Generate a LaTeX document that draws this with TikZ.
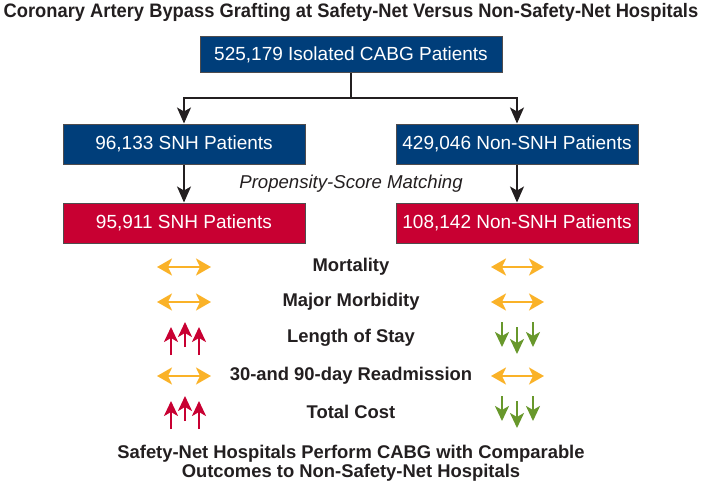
\documentclass[tikz,border=0pt]{standalone}
\usepackage{fontspec}
\setmainfont{Liberation Sans}
\usetikzlibrary{arrows.meta}
\definecolor{navy}{RGB}{0,62,122}
\definecolor{crim}{RGB}{200,0,50}
\definecolor{amber}{RGB}{250,178,40}
\definecolor{leaf}{RGB}{104,152,44}
\definecolor{ink}{RGB}{35,31,32}
\begin{document}
\begin{tikzpicture}[x=1pt,y=-1pt,
  box/.style={draw=ink!80,line width=1pt,text=white,inner sep=0pt,
    font=\fontsize{19}{22}\selectfont},
  bluebox/.style={box,fill=navy},
  redbox/.style={box,fill=crim},
  flow/.style={draw=ink,line width=1.3pt,-{Stealth[length=16pt,width=14pt,inset=4pt]}},
  rowlab/.style={font=\bfseries\fontsize{18.4}{21}\selectfont,text=ink},
  same/.style={draw=amber,line width=2.4pt,{Stealth[length=15pt,width=17pt,inset=4pt]}-{Stealth[length=15pt,width=17pt,inset=4pt]}},
  upar/.style={draw=crim,line width=2.4pt,-{Stealth[length=15pt,width=14pt,inset=4pt]}},
  dnar/.style={draw=leaf,line width=2.4pt,-{Stealth[length=15pt,width=14pt,inset=4pt]}}]
\useasboundingbox (0,0) rectangle (702,487);
\node[font=\bfseries\fontsize{19.5}{23}\selectfont,text=ink] (title) at (351,13)
  {\scalebox{0.94}[1]{Coronary Artery Bypass Grafting at Safety-Net Versus Non-Safety-Net Hospitals}};
\node[bluebox,minimum width=302pt,minimum height=36pt] (top) at (351,55) {525,179 Isolated CABG Patients};
\node[bluebox,minimum width=242pt,minimum height=40pt] (snh) at (184,144) {96,133 SNH Patients};
\node[bluebox,minimum width=242pt,minimum height=40pt] (nsnh) at (517,144) {429,046 Non-SNH Patients};
\node[redbox,minimum width=242pt,minimum height=40pt] (msnh) at (184,223) {95,911 SNH Patients};
\node[redbox,minimum width=242pt,minimum height=40pt] (mnsnh) at (517,223) {108,142 Non-SNH Patients};
\node[font=\itshape\fontsize{18.6}{21}\selectfont,text=ink] (psm) at (351,184) {Propensity-Score Matching};
\coordinate (j) at (351,98);
\draw[draw=ink,line width=1.3pt] (top.south) -- (j);
\draw[flow] (j) -| (snh.north);
\draw[flow] (j) -| (nsnh.north);
\draw[flow] (snh) -- (msnh);
\draw[flow] (nsnh) -- (mnsnh);
\node[rowlab] (r1) at (351,267) {Mortality};
\node[rowlab] (r2) at (351,302) {Major Morbidity};
\node[rowlab] (r3) at (351,338) {Length of Stay};
\node[rowlab] (r4) at (351,376) {30-and 90-day Readmission};
\node[rowlab] (r5) at (351,412) {Total Cost};
\foreach \y in {267,302,376}{
  \draw[same] (157,\y) -- (211,\y);
  \draw[same] (491,\y) -- (544,\y);
}
\foreach \y in {338,412}{
  \draw[upar] (171,\y+17) -- (171,\y-11);
  \draw[upar] (185,\y+9) -- (185,\y-16);
  \draw[upar] (199,\y+17) -- (199,\y-11);
  \draw[dnar] (502,\y-16) -- (502,\y+9);
  \draw[dnar] (517,\y-11) -- (517,\y+16);
  \draw[dnar] (533,\y-16) -- (533,\y+9);
}
\node[font=\bfseries\fontsize{18.4}{19.5}\selectfont,text=ink,align=center] (concl) at (351,463)
  {Safety-Net Hospitals Perform CABG with Comparable\\Outcomes to Non-Safety-Net Hospitals};
\end{tikzpicture}
\end{document}
